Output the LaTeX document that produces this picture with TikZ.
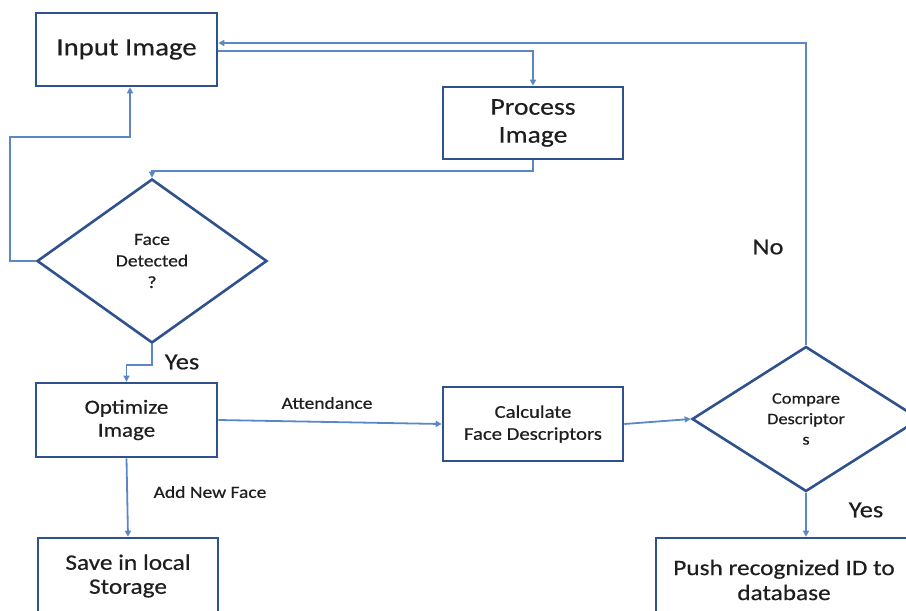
\documentclass[tikz,border=0pt]{standalone}
\usepackage{fontspec}
\setmainfont{Carlito}[FakeStretch=1.15,FakeBold=0.5]
\usetikzlibrary{shapes.geometric,arrows.meta,calc}
\definecolor{boxc}{HTML}{2F528F}
\definecolor{linec}{HTML}{5B87C7}
\definecolor{txtc}{HTML}{1E1E1E}
\newcommand{\fs}[2]{\fontsize{#1}{#2}\selectfont}
\begin{document}
\begin{tikzpicture}[x=1pt,y=-1pt,
  box/.style={draw=boxc,line width=2.6pt,rectangle,align=center,text=txtc,inner sep=0pt},
  dia/.style={draw=boxc,line width=2.6pt,diamond,align=center,text=txtc,inner sep=0pt},
  conn/.style={draw=linec,line width=1.8pt,-{Triangle[length=6pt,width=6pt]}},
  lbl/.style={text=txtc,inner sep=0pt}]
\useasboundingbox (0,0) rectangle (906,611);

\node[box,minimum width=181pt,minimum height=73pt,font=\fs{25}{30}] (input) at (126.5,49.5) {Input Image};
\node[box,minimum width=180pt,minimum height=72pt,font=\fs{24}{28}] (process) at (533,123) {Process\\Image};
\node[dia,minimum width=230pt,minimum height=164pt,font=\fs{17}{21.5}] (face) at (152,261) {Face\\Detected\\?};
\node[box,minimum width=181pt,minimum height=74pt,font=\fs{20}{23}] (optimize) at (126.5,420) {Optimize\\Image};
\node[box,minimum width=180pt,minimum height=74pt,font=\fs{18}{22}] (calc) at (533,424) {Calculate\\Face Descriptors};
\node[dia,minimum width=228pt,minimum height=145pt,font=\fs{16}{20.5}] (compare) at (806,419) {Compare\\Descriptor\\s};
\node[box,minimum width=180pt,minimum height=76pt,font=\fs{22}{24}] (save) at (128,576) {Save in local\\Storage};
\node[box,minimum width=256pt,minimum height=84pt,font=\fs{22}{25}] (push) at (784,580) {Push recognized ID to\\database};

\coordinate (inA) at ($(input.east)+(0,1.5)$);
\coordinate (inB) at ($(input.east)+(0,-6.5)$);

% Input -> Process
\draw[conn] (inA) -| (process.north);
% No loop back to Input
\draw[conn] (compare.north) |- (inB);
% Process -> Face
\draw[conn] (process.south) -- ++(0,11) -| (face.north);
% Face (no) -> Input
\draw[conn] (face.west) -- ++(-26,0) -- ++(0,-124) -| ($(input.south)+(3.5,0)$);
% Face yes -> Optimize
\draw[conn] (face.south) -- ++(0,21) -| (optimize.north);
% Optimize -> Calc
\draw[conn] (optimize.east) -- (calc.west);
% Optimize -> Save
\draw[conn] (optimize.south) -- (save.north);
% Calc -> Compare
\draw[conn] (calc.east) -- (compare.west);
% Compare -> Push
\draw[conn] (compare.south) -- (compare.south |- push.north);

\node[lbl,font=\fs{23}{26}] (yes1) at (182,362) {Yes};
\node[lbl,font=\fs{23}{26}] (yes2) at (866,510) {Yes};
\node[lbl,font=\fs{23}{26}] (no) at (768,247) {No};
\node[lbl,font=\fs{17}{20}] (att) at (327,403) {Attendance};
\node[lbl,font=\fs{17}{20}] (anf) at (210,492) {Add New Face};
\end{tikzpicture}
\end{document}
